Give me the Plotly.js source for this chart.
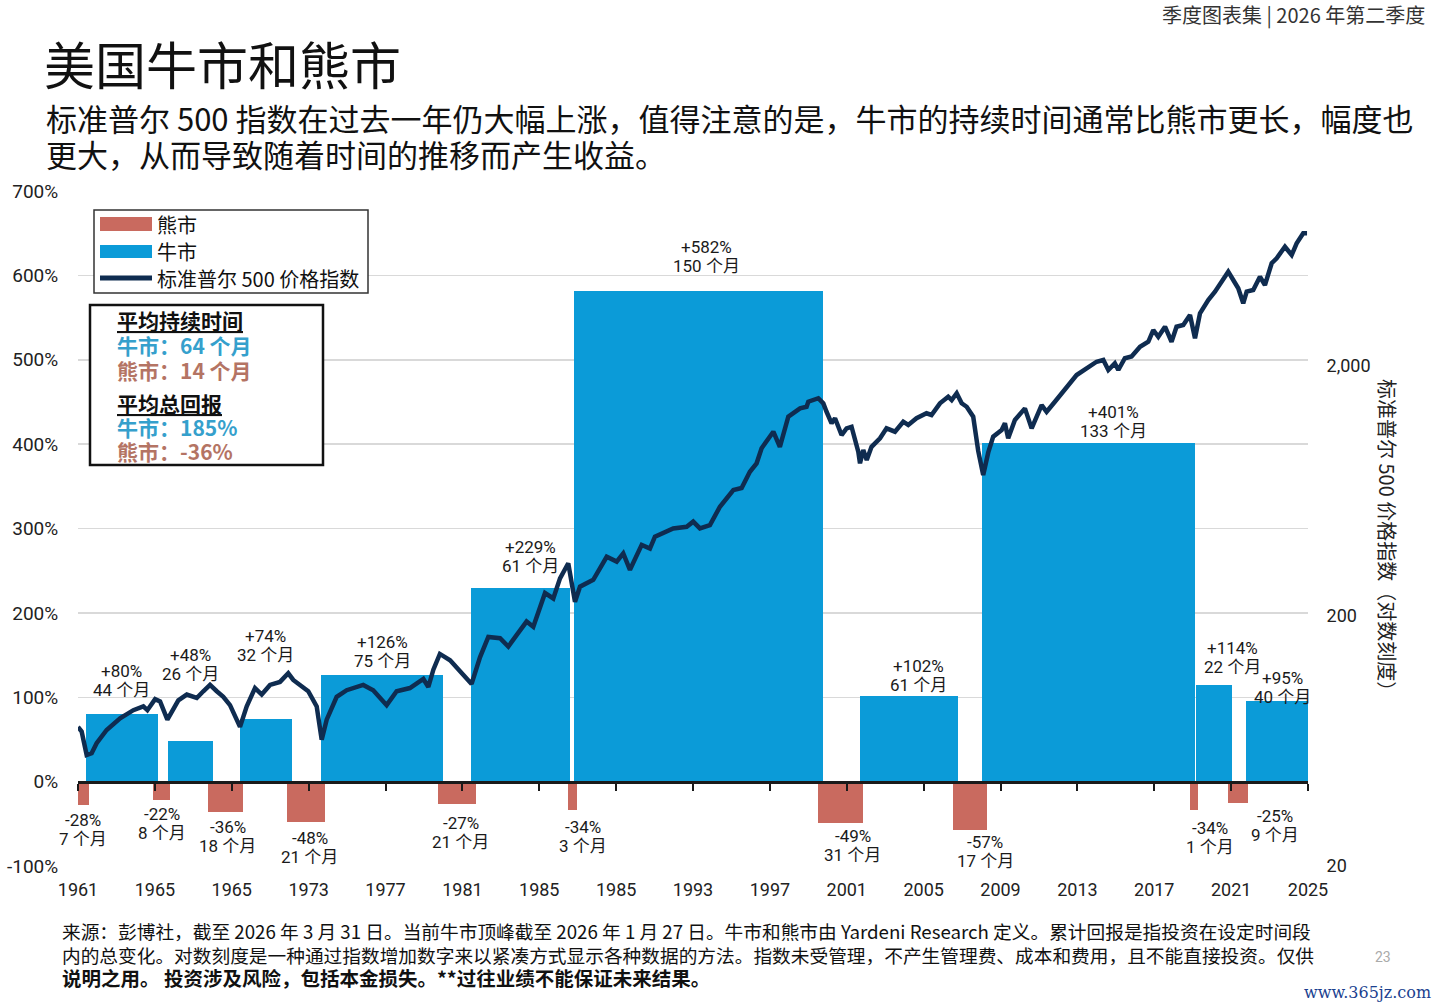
<!DOCTYPE html>
<html><head><meta charset="utf-8">
<script src="https://cdn.plot.ly/plotly-3.0.1.min.js"></script>
<style>html,body{margin:0;padding:0;background:#fff;} #chart{width:1440px;height:1006px;}</style>
</head><body><div id="chart"></div>
<script>
// ---------------- DATA ----------------
const xTickYears  = [1961,1965,1969,1973,1977,1981,1985,1989,1993,1997,2001,2005,2009,2013,2017,2021,2025];
const xTickLabels = ['1961','1965','1965','1973','1977','1981','1985','1985','1993','1997','2001','2005','2009','2013','2017','2021','2025'];
const leftTicks   = [-100,0,100,200,300,400,500,600,700];
const rightTicks  = [20,200,2000];
const rightLabels = ['20','200','2,000'];

const bullStart  = [1961.42,1965.68,1969.43,1973.64,1981.45,1986.81,2001.69,2008.04,2019.17,2021.76];
const bullEnd    = [1965.16,1968.02,1972.13,1979.99,1986.60,1999.76,2006.79,2019.12,2021.05,2025.00];
const bullReturn = [80,48,74,126,229,582,102,401,114,95];
const bullMonths = [44,26,32,75,61,150,61,133,22,40];

const bearStart  = [1961.00,1964.90,1967.76,1971.87,1979.73,1986.50,1999.50,2006.53,2018.86,2020.84];
const bearEnd    = [1961.57,1965.79,1969.59,1973.85,1981.71,1986.96,2001.85,2008.30,2019.27,2021.87];
const bearReturn = [-28,-22,-36,-48,-27,-34,-49,-57,-34,-25];
const bearMonths = [7,8,18,21,21,3,31,17,1,9];

const spxYear = [1961.00,1961.19,1961.45,1961.71,1961.97,1962.49,1963.19,1963.88,1964.40,1964.61,
 1965.01,1965.27,1965.65,1966.22,1966.66,1967.18,1967.52,1967.87,1968.22,1968.56,
 1968.91,1969.43,1969.78,1970.21,1970.56,1970.99,1971.51,1971.94,1972.20,1972.55,
 1972.98,1973.42,1973.68,1973.94,1974.46,1974.98,1975.84,1976.36,1977.06,1977.58,
 1978.27,1978.97,1979.23,1979.49,1979.83,1980.36,1980.70,1980.96,1981.48,1981.92,
 1982.35,1982.96,1983.39,1983.83,1984.34,1984.69,1985.30,1985.73,1986.08,1986.51,
 1986.86,1987.12,1987.81,1988.51,1989.03,1989.37,1989.72,1990.33,1990.76,1991.02,
 1991.97,1992.67,1993.01,1993.36,1993.88,1994.40,1995.10,1995.53,1995.96,1996.31,
 1996.57,1997.18,1997.52,1997.96,1998.57,1998.91,1999.00,1999.52,1999.78,1999.95,
 2000.21,2000.39,2000.73,2000.99,2001.25,2001.60,2001.69,2001.86,2002.04,2002.29,
 2002.73,2003.07,2003.51,2003.94,2004.20,2004.63,2005.15,2005.41,2005.85,2006.28,
 2006.46,2006.72,2006.98,2007.24,2007.58,2007.84,2008.10,2008.36,2008.62,2009.06,
 2009.23,2009.40,2009.75,2010.27,2010.62,2011.14,2011.40,2011.83,2012.44,2012.96,
 2013.48,2014.00,2014.35,2014.61,2014.95,2015.13,2015.47,2015.82,2016.26,2016.69,
 2016.95,2017.21,2017.56,2017.90,2018.16,2018.51,2018.86,2019.12,2019.38,2019.81,
 2020.16,2020.59,2020.85,2021.11,2021.37,2021.63,2021.81,2022.15,2022.50,2022.76,
 2023.11,2023.37,2023.80,2024.15,2024.41,2024.75,2024.95];
const spxValue = [72,69,55.6,56.5,62,70,78,84,87,84,
 93,91,77,92,97,94,100,106,100,95,
 88,72,87,103,97,106,109,118,111,106,
 100,87,64,77,95,101,106,101,88,100,
 103,112,104,122,141,133,125,118,107,137,
 165,163,151,168,190,181,247,235,283,325,
 228,262,279,345,330,356,306,385,372,415,
 448,455,477,448,462,547,638,650,755,816,
 938,1092,950,1254,1354,1374,1439,1486,1418,1312,
 1180,1236,1059,1126,1143,908,816,922,842,950,
 1028,1126,1092,1197,1162,1236,1294,1274,1418,1507,
 1462,1556,1418,1374,1254,915,733,900,1043,1109,
 1180,1028,1216,1354,1126,1396,1312,1439,1652,1840,
 1958,2080,2114,1928,2050,1928,2148,2182,2388,2500,
 2786,2618,2872,2500,2872,2918,3200,2582,3252,3674,
 3966,4488,4768,4416,4092,3562,3966,4028,4550,4218,
 5152,5396,6000,5558,6192,6792,6792];

// ---------------- STYLE / LAYOUT HELPERS ----------------
const BULL = '#0b9bd8', BEAR = '#c96a5f', LINE = '#0f2c50';
const FONT = "Roboto, 'Noto Sans CJK SC', sans-serif";
const CJK = "'Noto Sans CJK SC', Roboto, sans-serif";
const PL = 78, PR = 1308, PT = 191, PB = 866;
const X = px => (px - PL) / (PR - PL);
const Y = py => (PB - py) / (PB - PT);

// label placement tweaks (pixels)
const bullLblDx = [-1,0,0,1,10,8,9,25,18,6];
const bullLblDy = [24.5,67.5,64.5,14.7,22.7,24.8,10.9,12.6,18.8,4.8];
const bearLblDx = [0,0,2,4,4,10,12,15,16,37];
const bearLblDy = [14.4,13.4,14.6,15.5,18.2,16.3,12.6,11.9,17.3,12.9];

const mid = (a,b) => a.map((s,i) => (s + b[i]) / 2);
const wid = (a,b) => a.map((s,i) => b[i] - s);

const traces = [
  {type:'bar', x: mid(bearStart,bearEnd), width: wid(bearStart,bearEnd), y: bearReturn,
   marker:{color:BEAR}, name:'熊市', showlegend:false, hoverinfo:'skip'},
  {type:'bar', x: mid(bullStart,bullEnd), width: wid(bullStart,bullEnd), y: bullReturn,
   marker:{color:BULL}, name:'牛市', showlegend:false, hoverinfo:'skip'},
  {type:'scatter', mode:'markers', x:[1961], y:[0], xaxis:'x2', yaxis:'y',
   marker:{opacity:0}, showlegend:false, hoverinfo:'skip'},
  {type:'scatter', mode:'lines', x: spxYear, y: spxValue, xaxis:'x', yaxis:'y2',
   line:{color:LINE, width:4.5}, name:'标准普尔 500 价格指数', showlegend:false, hoverinfo:'skip'}
];

const ann = [];
const bc = mid(bullStart,bullEnd);
bullReturn.forEach((r,i) => {
  ann.push({x: bc[i], y: r, xref:'x', yref:'y', text: '+' + r + '%', showarrow:false,
    xshift: bullLblDx[i], yshift: bullLblDy[i] + 19, yanchor:'middle',
    font:{family:FONT, size:17, color:'#1a1a1a'}});
  ann.push({x: bc[i], y: r, xref:'x', yref:'y', text: bullMonths[i] + ' 个月', showarrow:false,
    xshift: bullLblDx[i], yshift: bullLblDy[i], yanchor:'middle',
    font:{family:FONT, size:17, color:'#1a1a1a'}});
});
const brc = mid(bearStart,bearEnd);
bearReturn.forEach((r,i) => {
  ann.push({x: brc[i], y: r, xref:'x', yref:'y', text: r + '%', showarrow:false,
    xshift: bearLblDx[i], yshift: -bearLblDy[i], yanchor:'middle',
    font:{family:FONT, size:17, color:'#1a1a1a'}});
  ann.push({x: brc[i], y: r, xref:'x', yref:'y', text: bearMonths[i] + ' 个月', showarrow:false,
    xshift: bearLblDx[i], yshift: -bearLblDy[i] - 19, yanchor:'middle',
    font:{family:FONT, size:17, color:'#1a1a1a'}});
});

function txt(px, py, text, size, opts) {
  return Object.assign({xref:'paper', yref:'paper', x: X(px), y: Y(py), text, showarrow:false,
    xanchor:'left', yanchor:'middle', font:{family:CJK, size, color:'#111'}}, opts || {});
}
// header, subtitle
ann.push(txt(1427, 14, '季度图表集 | 2026 年第二季度', 20, {xanchor:'right', font:{family:CJK, size:20, color:'#333'}}));
ann.push(txt(44, 117, '标准普尔 500 指数在过去一年仍大幅上涨，值得注意的是，牛市的持续时间通常比熊市更长，幅度也', 31));
ann.push(txt(44, 153, '更大，从而导致随着时间的推移而产生收益。', 31));
// right axis title
ann.push(txt(1388, 540, '标准普尔 500 价格指数（对数刻度）', 20, {xanchor:'center', textangle:90, font:{family:CJK, size:20, color:'#222'}}));
// legend texts
ann.push(txt(155, 224, '熊市', 20));
ann.push(txt(155, 251, '牛市', 20));
ann.push(txt(155, 278, '标准普尔 500 价格指数', 20));
// stats box texts
const SB = '#35a0cc', SR = '#b47464';
ann.push(txt(115, 320, '<b><u>平均持续时间</u></b>', 21));
ann.push(txt(115, 345, '<b>牛市：64 个月</b>', 21, {font:{family:CJK, size:21, color:SB}}));
ann.push(txt(115, 370, '<b>熊市：14 个月</b>', 21, {font:{family:CJK, size:21, color:SR}}));
ann.push(txt(115, 403, '<b><u>平均总回报</u></b>', 21));
ann.push(txt(115, 427, '<b>牛市：185%</b>', 21, {font:{family:CJK, size:21, color:SB}}));
ann.push(txt(115, 451, '<b>熊市：-36%</b>', 21, {font:{family:CJK, size:21, color:SR}}));
// footnote
ann.push(txt(60, 930, '来源：彭博社，截至 2026 年 3 月 31 日。当前牛市顶峰截至 2026 年 1 月 27 日。牛市和熊市由 Yardeni Research 定义。累计回报是指投资在设定时间段', 18.7));
ann.push(txt(60, 954, '内的总变化。对数刻度是一种通过指数增加数字来以紧凑方式显示各种数据的方法。指数未受管理，不产生管理费、成本和费用，且不能直接投资。仅供', 18.7));
ann.push(txt(60, 978, '<b>说明之用。 投资涉及风险，包括本金损失。**过往业绩不能保证未来结果。</b>', 19.5));
ann.push(txt(1383, 957, '23', 14, {xanchor:'center', font:{family:FONT, size:14, color:'#aaa'}}));
ann.push(txt(1433, 992, 'www.365jz.com', 17, {xanchor:'right', font:{family:"'DejaVu Serif', 'Liberation Serif', serif", size:16, color:'#1b3f8f'}}));

const shapes = [
  // legend box and swatches
  {type:'rect', xref:'paper', yref:'paper', x0:X(94), x1:X(368), y0:Y(293), y1:Y(210),
   line:{color:'#333', width:1.5}, fillcolor:'rgba(255,255,255,1)', layer:'above'},
  {type:'rect', xref:'paper', yref:'paper', x0:X(100), x1:X(152), y0:Y(231), y1:Y(217),
   line:{width:0}, fillcolor:BEAR, layer:'above'},
  {type:'rect', xref:'paper', yref:'paper', x0:X(100), x1:X(152), y0:Y(258), y1:Y(245),
   line:{width:0}, fillcolor:BULL, layer:'above'},
  {type:'line', xref:'paper', yref:'paper', x0:X(100), x1:X(152), y0:Y(278), y1:Y(278),
   line:{color:LINE, width:5}, layer:'above'},
  // stats box
  {type:'rect', xref:'paper', yref:'paper', x0:X(90), x1:X(323), y0:Y(465), y1:Y(305),
   line:{color:'#111', width:2.5}, fillcolor:'rgba(255,255,255,1)', layer:'above'}
];

const layout = {
  width:1440, height:1006,
  margin:{l:PL, r:1440-PR, t:PT, b:1006-PB, pad:0},
  paper_bgcolor:'#fff', plot_bgcolor:'#fff',
  barmode:'overlay', bargap:0,
  showlegend:false,
  title:{text:'美国牛市和熊市', x:44/1440, xanchor:'left', y:1-67/1006, yanchor:'middle', yref:'container',
         font:{family:CJK, size:51, color:'#111'}},
  font:{family:FONT, color:'#222'},
  xaxis:{range:[1961,2025], tickvals:xTickYears, ticktext:xTickLabels, showgrid:false, zeroline:false,
         showline:false, ticks:'outside', ticklen:7, tickcolor:'rgba(0,0,0,0)',
         tickfont:{family:FONT, size:18, color:'#222'}},
  xaxis2:{overlaying:'x', matches:'x', anchor:'free', position:Y(782), showline:true, linecolor:'#1a1a1a',
          linewidth:2.5, ticks:'outside', ticklen:7, tickwidth:2, tickcolor:'#1a1a1a',
          tickvals:xTickYears, showticklabels:false, showgrid:false, zeroline:false},
  yaxis:{range:[-100,700], tickvals:leftTicks, ticktext:leftTicks.map(v => v + '%'),
         showgrid:true, gridcolor:'#d9d9d9', gridwidth:1.5, zeroline:false,
         ticks:'outside', ticklen:15, tickcolor:'rgba(0,0,0,0)',
         tickfont:{family:FONT, size:19, color:'#222'}},
  yaxis2:{type:'log', overlaying:'y', side:'right', range:[Math.log10(20), Math.log10(20)+2.7],
          tickvals:rightTicks, ticktext:rightLabels, showgrid:false, zeroline:false,
          ticks:'outside', ticklen:14, tickcolor:'rgba(0,0,0,0)',
          tickfont:{family:FONT, size:18, color:'#222'}},
  annotations: ann,
  shapes: shapes
};

Plotly.newPlot('chart', traces, layout, {staticPlot:true, displayModeBar:false});
</script></body></html>
